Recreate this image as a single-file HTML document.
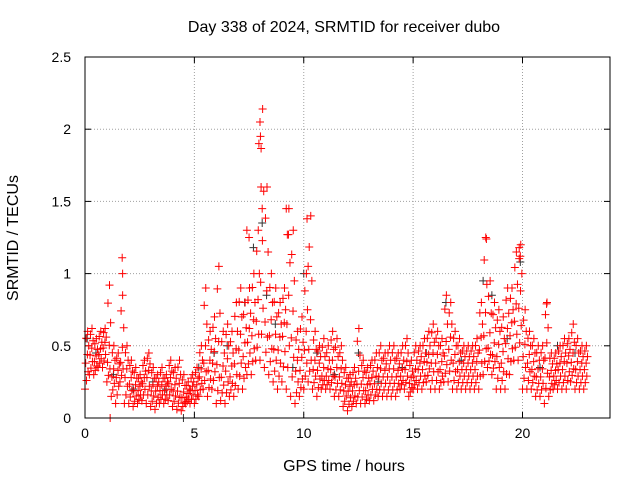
<!DOCTYPE html>
<html><head><meta charset="utf-8"><style>
body{margin:0;background:#fff;}
svg{display:block;font-family:"Liberation Sans",sans-serif;}
</style></head><body>
<svg id="chart" width="640" height="480">
<rect width="640" height="480" fill="#fff"/>
<text x="344" y="32" font-size="16" text-anchor="middle">Day 338 of 2024, SRMTID for receiver dubo</text>
<text x="344" y="471" font-size="16" text-anchor="middle">GPS time / hours</text>
<text transform="translate(18,238) rotate(-90)" font-size="16" text-anchor="middle">SRMTID / TECUs</text>
<g id="grid"></g>
<g id="marks"></g>
<rect x="85" y="57" width="525" height="361" fill="none" stroke="#000" stroke-width="1"/>
</svg>
<script>
const xTicks=[0,5,10,15,20];
const yTicks=[0,0.5,1,1.5,2,2.5];
const yTickLabels=["0","0.5","1","1.5","2","2.5"];
const stepHours=0.2;
const redHi=[.6,.62,.55,.6,.62,.92,.5,.45,.85,.5,
.4,.35,.3,.4,.45,.35,.3,.35,.3,.4,
.35,.4,.3,.25,.3,.35,.5,.9,.6,.7,
1.05,.6,.65,.6,.8,.9,.8,.9,1.0,1.3,
2.14,1.6,1.0,.9,.8,.9,1.45,1.3,.6,.7,
1.0,1.4,.6,.5,.55,.5,.6,.55,.5,.35,
.3,.35,.62,.4,.35,.4,.45,.5,.45,.5,
.5,.45,.5,.55,.4,.5,.5,.55,.6,.65,
.6,.55,.85,.8,.6,.55,.5,.5,.5,.55,
.8,1.25,.95,.8,.75,.7,.9,.9,1.15,1.2,
.75,.6,.55,.5,.5,.8,.45,.45,.5,.55,
.55,.65,.55,.5,.5];
const redMid=[.4,.45,.4,.45,.5,.4,.3,.3,.4,.3,
.25,.2,.2,.25,.3,.2,.2,.2,.2,.25,
.2,.2,.15,.15,.2,.2,.3,.4,.35,.4,
.4,.3,.35,.3,.4,.5,.45,.55,.6,.7,
1.0,.7,.6,.5,.5,.6,.7,.6,.35,.35,
.5,.5,.35,.35,.3,.3,.35,.3,.3,.2,
.2,.2,.25,.25,.2,.25,.25,.3,.3,.3,
.3,.3,.3,.35,.25,.3,.35,.35,.4,.4,
.4,.35,.45,.5,.4,.35,.35,.35,.35,.35,
.5,.6,.5,.45,.45,.4,.55,.6,.7,.8,
.45,.4,.35,.3,.3,.45,.3,.3,.35,.35,
.4,.4,.35,.35,.35];
const redLo=[.2,.3,.3,.35,.35,.25,.15,.1,.25,.1,
.1,.08,.1,.12,.1,.08,.06,.1,.1,.12,
.08,.06,.05,.1,.1,.1,.15,.2,.15,.2,
.1,.12,.1,.15,.15,.2,.2,.3,.3,.4,
.4,.35,.3,.25,.2,.25,.2,.15,.1,.15,
.2,.25,.2,.15,.2,.2,.2,.15,.15,.08,
.05,.08,.1,.1,.1,.12,.12,.15,.15,.15,
.15,.15,.2,.2,.15,.2,.2,.2,.25,.2,
.2,.2,.25,.25,.2,.2,.2,.2,.2,.2,
.2,.3,.35,.3,.2,.2,.2,.3,.4,.4,
.2,.2,.2,.15,.15,.1,.15,.2,.2,.2,
.2,.25,.2,.2,.2];
const spikeHours=[1.15,1.7,1.72,7.4,7.5,7.95,8.0,8.02,8.05,8.1,9.2,9.3,10.15,10.2,18.35,19.85,19.9,21.1];
const spikeValues=[0,1.11,1.0,1.3,1.25,1.9,2.05,1.95,1.6,1.45,1.45,1.27,1.38,1.05,1.24,1.18,1.12,0.79];
const blackHours=[0.1,0.5,1.3,2.2,3.1,3.7,4.5,5.2,5.9,6.5,7.3,7.7,8.1,8.3,8.7,9.5,10.0,10.6,11.4,12.5,13.4,14.5,15.6,16.5,17.2,18.2,18.6,19.3,19.9,20.8,21.6,22.4];
const blackValues=[0.55,0.45,0.3,0.2,0.25,0.2,0.0,0.35,0.45,0.5,0.8,1.18,1.35,0.85,0.65,0.35,1.0,0.45,0.3,0.45,0.25,0.35,0.45,0.8,0.4,0.95,0.85,0.55,1.08,0.35,0.5,0.45];

const X0=85,X1=610,Y0=418,Y1=57;
function xs(h){return X0+(h/24)*(X1-X0);}
function ys(v){return Y0-(v/2.5)*(Y0-Y1);}
const NS="http://www.w3.org/2000/svg";
const grid=document.getElementById('grid'),marks=document.getElementById('marks');
function el(tag,attrs,parent){const e=document.createElementNS(NS,tag);for(const k in attrs)e.setAttribute(k,attrs[k]);parent.appendChild(e);return e;}
xTicks.forEach(t=>{
  const x=xs(t);
  if(t>0){const g=el('line',{x1:x,x2:x,y1:Y1,y2:Y0,stroke:'#a0a0a0','stroke-dasharray':'1,2'},grid);
  
  }
  el('line',{x1:x,x2:x,y1:Y0,y2:Y0-6,stroke:'#000'},grid);
  el('line',{x1:x,x2:x,y1:Y1,y2:Y1+6,stroke:'#000'},grid);
  const l=el('text',{x:x,y:Y0+20,'font-size':14,'text-anchor':'middle'},grid);
  l.textContent=String(t);
  
  
});
yTicks.forEach((t,i)=>{
  const y=ys(t);
  if(t>0&&t<2.5){const g=el('line',{x1:X0,x2:X1,y1:y,y2:y,stroke:'#a0a0a0','stroke-dasharray':'1,2'},grid);
  
  }
  el('line',{x1:X0,x2:X0+6,y1:y,y2:y,stroke:'#000'},grid);
  el('line',{x1:X1,x2:X1-6,y1:y,y2:y,stroke:'#000'},grid);
  const l=el('text',{x:X0-14,y:y+5,'font-size':14,'text-anchor':'end'},grid);
  l.textContent=yTickLabels[i];
  
  
});
function plus(h,v,color,name){
  const x=xs(h),y=ys(v);
  const p=el('path',{d:`M${x-4},${y}h8M${x},${y-4}v8`,stroke:color,'stroke-width':1,fill:'none'},marks);
  
  
}
blackHours.forEach((h,i)=>plus(h,blackValues[i],'#333','black-point'));
const fracs=[0,0.35,0.7,0.15,0.55,0.85,0.25,0.6];
const levels=[0,0.15,0.3,0.45,0.6,0.75,0.88,1];
redHi.forEach((v,i)=>{
  const h=i*stepHours;
  const lo=redLo[i],mid=redMid[i];
  levels.forEach((f,k)=>{
    const val=f<0.5?lo+(mid-lo)*(f/0.5):mid+(v-mid)*((f-0.5)/0.5);
    plus(h+stepHours*fracs[k],val,'#f00','red-point');
  });
});
spikeHours.forEach((h,i)=>plus(h,spikeValues[i],'#f00','red-spike-point'));
</script>
</body></html>
